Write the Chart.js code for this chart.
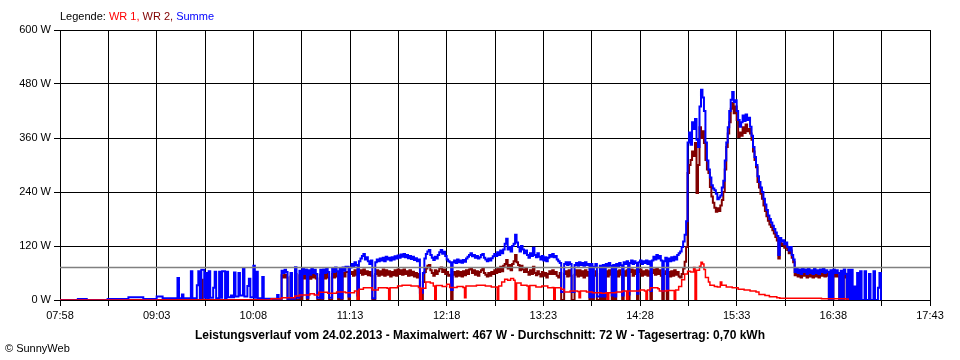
<!DOCTYPE html>
<html>
<head>
<meta charset="utf-8">
<script src="https://cdn.jsdelivr.net/npm/chart.js@4.4.1/dist/chart.umd.min.js"></script>
<style>
  html, body { margin: 0; padding: 0; background: #fff; }
  canvas { display: block; }
</style>
</head>
<body>
<canvas id="chart" width="960" height="360"></canvas>
<script>
// x axis labels (every second grid line carries a label)
const tickLabels = ["07:58", "09:03", "10:08", "11:13", "12:18", "13:23", "14:28", "15:33", "16:38", "17:43"];
const yMax = 600, yStep = 120;
const durchschnitt = 72;
const maximalwert = 467;
const tagesertrag = "0,70";
const datum = "24.02.2013";

// [time, watt] change points
const wr1 = [
  ["07:58", 0], ["10:18", 0], ["10:20", 3], ["10:27", 5], ["10:36", 9], ["10:39", 11], ["10:46", 14], ["10:49", 11],
  ["10:52", 17], ["10:58", 15], ["11:04", 18], ["11:10", 16], ["11:16", 20], ["11:18", 0], ["11:19", 24], ["11:22", 27],
  ["11:28", 22], ["11:32", 27], ["11:38", 26], ["11:39", 0], ["11:40", 27], ["11:45", 31], ["11:48", 33], ["11:54", 31],
  ["11:59", 28], ["12:00", 0], ["12:01", 26], ["12:04", 40], ["12:07", 38], ["12:09", 31], ["12:10", 0], ["12:11", 32],
  ["12:15", 30], ["12:18", 35], ["12:20", 28], ["12:25", 30], ["12:29", 28], ["12:30", 5], ["12:31", 31], ["12:38", 33],
  ["12:44", 31], ["12:48", 29], ["12:52", 0], ["12:53", 31], ["12:55", 40], ["12:57", 46], ["12:59", 44], ["13:01", 48],
  ["13:03", 44], ["13:04", 0], ["13:05", 38], ["13:08", 33], ["13:12", 31], ["13:13", 0], ["13:14", 32], ["13:18", 29],
  ["13:22", 31], ["13:26", 27], ["13:29", 28], ["13:30", 0], ["13:31", 27], ["13:35", 24], ["13:37", 18], ["13:41", 20],
  ["13:46", 19], ["13:47", 5], ["13:48", 20], ["13:52", 18], ["13:56", 16], ["14:02", 15], ["14:05", 16], ["14:06", 0],
  ["14:07", 16], ["14:12", 18], ["14:16", 20], ["14:19", 0], ["14:20", 20], ["14:26", 20], ["14:28", 22], ["14:31", 20],
  ["14:32", 0], ["14:33", 22], ["14:35", 27], ["14:40", 25], ["14:41", 20], ["14:46", 21], ["14:51", 0], ["14:52", 22],
  ["14:54", 30], ["14:56", 45], ["14:58", 58], ["15:00", 64], ["15:02", 62], ["15:04", 72], ["15:05", 0], ["15:06", 66],
  ["15:08", 75], ["15:09", 84], ["15:10", 80], ["15:11", 68], ["15:12", 50], ["15:14", 40], ["15:15", 33], ["15:18", 30],
  ["15:20", 29], ["15:22", 40], ["15:23", 33], ["15:26", 29], ["15:30", 27], ["15:34", 24], ["15:38", 22], ["15:42", 20],
  ["15:46", 18], ["15:48", 12], ["15:52", 10], ["15:55", 7], ["16:00", 5], ["16:02", 4], ["16:30", 3], ["16:46", 2], ["16:48", 0]
];

const wr2 = [
  ["07:58", 0], ["09:33", 45], ["09:34", 0],
  ["10:27", 55], ["10:28", 50], ["10:29", 56], ["10:30", 50], ["10:31", 0], ["10:33", 52], ["10:34", 0], ["10:36", 58], ["10:37", 0],
  ["10:39", 55], ["10:40", 0], ["10:41", 58], ["10:42", 48], ["10:43", 56], ["10:44", 0], ["10:45", 55], ["10:46", 47],
  ["10:47", 58], ["10:48", 50], ["10:49", 56], ["10:50", 48], ["10:51", 0], ["10:53", 56], ["10:54", 0], ["10:55", 58],
  ["10:56", 48], ["10:57", 58], ["10:58", 50], ["10:59", 0], ["11:01", 58], ["11:02", 50], ["11:03", 60], ["11:04", 52],
  ["11:05", 0], ["11:06", 58], ["11:07", 0], ["11:08", 60], ["11:09", 52], ["11:10", 62], ["11:12", 0], ["11:13", 58],
  ["11:14", 62], ["11:15", 54], ["11:16", 66], ["11:17", 56], ["11:18", 0], ["11:19", 60], ["11:20", 66], ["11:21", 56],
  ["11:22", 68], ["11:23", 58], ["11:24", 64], ["11:25", 55], ["11:26", 62], ["11:27", 54], ["11:28", 0],
  ["11:30", 58], ["11:31", 66], ["11:32", 54], ["11:33", 64], ["11:34", 56], ["11:35", 68], ["11:36", 54], ["11:37", 66],
  ["11:38", 56], ["11:39", 64], ["11:40", 52], ["11:41", 62], ["11:42", 55], ["11:43", 66], ["11:44", 54], ["11:45", 68],
  ["11:46", 58], ["11:47", 66], ["11:48", 56], ["11:49", 68], ["11:50", 58], ["11:51", 64], ["11:52", 54], ["11:53", 66],
  ["11:54", 55], ["11:55", 63], ["11:56", 52], ["11:57", 60], ["11:58", 50], ["11:59", 58], ["12:00", 0], ["12:02", 40],
  ["12:03", 62], ["12:04", 70], ["12:05", 76], ["12:06", 78], ["12:07", 66], ["12:08", 60], ["12:09", 54], ["12:10", 66],
  ["12:11", 58], ["12:12", 64], ["12:13", 70], ["12:14", 72], ["12:15", 62], ["12:16", 68], ["12:17", 58], ["12:18", 62],
  ["12:19", 54], ["12:20", 56], ["12:21", 0], ["12:22", 56], ["12:23", 62], ["12:24", 52], ["12:25", 64], ["12:26", 54],
  ["12:27", 62], ["12:28", 52], ["12:29", 64], ["12:30", 55], ["12:31", 66], ["12:32", 58], ["12:33", 68], ["12:34", 70],
  ["12:35", 60], ["12:36", 66], ["12:37", 56], ["12:38", 64], ["12:39", 54], ["12:40", 62], ["12:41", 66], ["12:42", 70],
  ["12:43", 60], ["12:44", 56], ["12:45", 52], ["12:46", 60], ["12:47", 54], ["12:48", 62], ["12:49", 58], ["12:50", 66],
  ["12:51", 60], ["12:52", 70], ["12:53", 62], ["12:54", 74], ["12:55", 64], ["12:56", 76], ["12:57", 80], ["12:58", 89],
  ["12:59", 70], ["13:00", 78], ["13:01", 66], ["13:02", 80], ["13:03", 86], ["13:04", 100], ["13:05", 84], ["13:06", 78],
  ["13:07", 66], ["13:08", 76], ["13:09", 68], ["13:10", 62], ["13:11", 70], ["13:12", 62], ["13:13", 56], ["13:14", 66],
  ["13:15", 58], ["13:16", 74], ["13:17", 60], ["13:18", 55], ["13:19", 64], ["13:20", 58], ["13:21", 52], ["13:22", 62],
  ["13:23", 54], ["13:24", 60], ["13:25", 50], ["13:26", 58], ["13:27", 64], ["13:28", 58], ["13:29", 66], ["13:30", 58],
  ["13:31", 62], ["13:32", 54], ["13:33", 50], ["13:34", 60], ["13:35", 0], ["13:37", 58], ["13:38", 64], ["13:39", 52],
  ["13:40", 66], ["13:41", 54], ["13:42", 0], ["13:44", 56], ["13:45", 66], ["13:46", 52], ["13:47", 66], ["13:48", 54],
  ["13:49", 64], ["13:50", 50], ["13:51", 66], ["13:52", 54], ["13:53", 62], ["13:54", 0], ["13:55", 62], ["13:56", 0],
  ["13:57", 54], ["13:58", 64], ["13:59", 0], ["14:01", 58], ["14:02", 0], ["14:03", 62], ["14:04", 0], ["14:05", 64],
  ["14:06", 52], ["14:07", 66], ["14:08", 56], ["14:09", 0], ["14:10", 62], ["14:11", 0], ["14:12", 64], ["14:13", 52],
  ["14:14", 66], ["14:15", 56], ["14:16", 0], ["14:17", 64], ["14:18", 54], ["14:19", 66], ["14:20", 0], ["14:21", 62],
  ["14:22", 68], ["14:23", 54], ["14:24", 66], ["14:25", 58], ["14:26", 0], ["14:27", 62], ["14:28", 68], ["14:29", 54],
  ["14:30", 64], ["14:31", 56], ["14:32", 66], ["14:33", 54], ["14:34", 64], ["14:35", 0], ["14:36", 60], ["14:37", 68],
  ["14:38", 56], ["14:39", 70], ["14:40", 58], ["14:41", 66], ["14:42", 54], ["14:43", 0], ["14:44", 58], ["14:45", 64],
  ["14:46", 0], ["14:47", 62], ["14:48", 52], ["14:49", 64], ["14:50", 54], ["14:51", 66], ["14:52", 56], ["14:53", 62],
  ["14:54", 52], ["14:55", 50], ["14:56", 58], ["14:57", 70], ["14:58", 85], ["14:59", 118], ["15:00", 282], ["15:01", 300],
  ["15:02", 311], ["15:03", 330], ["15:04", 320], ["15:05", 349], ["15:06", 238], ["15:07", 300], ["15:08", 384], ["15:09", 360],
  ["15:10", 375], ["15:11", 349], ["15:12", 311], ["15:13", 290], ["15:14", 282], ["15:15", 251], ["15:16", 230], ["15:17", 216],
  ["15:18", 205], ["15:19", 196], ["15:20", 204], ["15:21", 198], ["15:22", 210], ["15:23", 222], ["15:24", 240], ["15:25", 290],
  ["15:26", 340], ["15:27", 370], ["15:28", 395], ["15:29", 425], ["15:30", 438], ["15:31", 415], ["15:32", 430], ["15:33", 400],
  ["15:34", 362], ["15:35", 372], ["15:36", 365], ["15:37", 384], ["15:38", 371], ["15:39", 390], ["15:40", 375], ["15:41", 380],
  ["15:42", 370], ["15:43", 356], ["15:44", 330], ["15:45", 311], ["15:46", 295], ["15:47", 262], ["15:48", 250], ["15:49", 236],
  ["15:50", 225], ["15:51", 210], ["15:52", 198], ["15:53", 186], ["15:54", 176], ["15:55", 168], ["15:56", 162], ["15:57", 155],
  ["15:58", 148], ["15:59", 140], ["16:00", 132], ["16:01", 92], ["16:02", 130], ["16:03", 122], ["16:04", 125], ["16:05", 116],
  ["16:06", 120], ["16:07", 111], ["16:08", 104], ["16:09", 110], ["16:10", 94], ["16:11", 84], ["16:12", 55], ["16:13", 62],
  ["16:14", 52], ["16:15", 60], ["16:16", 50], ["16:17", 62], ["16:18", 54], ["16:19", 60], ["16:20", 50], ["16:21", 62],
  ["16:22", 52], ["16:23", 58], ["16:24", 50], ["16:25", 62], ["16:26", 52], ["16:27", 58], ["16:28", 50], ["16:29", 60],
  ["16:30", 54], ["16:31", 62], ["16:32", 52], ["16:33", 58], ["16:34", 54], ["16:35", 0], ["16:36", 58], ["16:37", 0],
  ["16:38", 60], ["16:39", 52], ["16:40", 58], ["16:41", 52], ["16:42", 0], ["16:43", 57], ["16:44", 0], ["16:45", 60],
  ["16:46", 50], ["16:47", 0]
];

const summe = [
  ["07:58", 0], ["08:10", 2], ["08:16", 0], ["08:30", 2], ["08:44", 6], ["08:54", 2], ["09:03", 8], ["09:07", 4],
  ["09:17", 49], ["09:18", 4], ["09:20", 12], ["09:21", 4], ["09:26", 64], ["09:27", 4], ["09:30", 33], ["09:31", 64],
  ["09:32", 4], ["09:33", 67], ["09:35", 5], ["09:36", 60], ["09:37", 4], ["09:38", 64], ["09:39", 5], ["09:41", 27],
  ["09:42", 63], ["09:43", 4], ["09:45", 63], ["09:46", 5], ["09:47", 64], ["09:49", 4], ["09:50", 63], ["09:51", 6],
  ["09:53", 10], ["09:54", 6], ["09:55", 61], ["09:56", 8], ["09:58", 60], ["09:59", 10], ["10:01", 69], ["10:02", 8],
  ["10:04", 31], ["10:05", 47], ["10:06", 6], ["10:08", 76], ["10:09", 5], ["10:10", 63], ["10:11", 4], ["10:14", 51],
  ["10:15", 3], ["10:24", 11], ["10:25", 3],
  ["10:27", 65], ["10:28", 60], ["10:29", 67], ["10:30", 62], ["10:31", 3], ["10:33", 60], ["10:34", 3], ["10:36", 73],
  ["10:37", 5], ["10:39", 65], ["10:40", 10], ["10:41", 70], ["10:42", 58], ["10:43", 68], ["10:44", 5], ["10:45", 66],
  ["10:46", 56], ["10:47", 70], ["10:48", 60], ["10:49", 67], ["10:50", 58], ["10:51", 5], ["10:53", 67], ["10:54", 4],
  ["10:55", 68], ["10:56", 60], ["10:57", 70], ["10:58", 62], ["10:59", 5], ["11:01", 70], ["11:02", 62], ["11:03", 72],
  ["11:04", 64], ["11:05", 6], ["11:06", 70], ["11:07", 4], ["11:08", 72], ["11:09", 65], ["11:10", 74], ["11:12", 8],
  ["11:13", 72], ["11:14", 80], ["11:15", 74], ["11:16", 84], ["11:17", 78], ["11:18", 10], ["11:19", 86], ["11:20", 92],
  ["11:21", 98], ["11:22", 102], ["11:23", 90], ["11:24", 95], ["11:25", 86], ["11:26", 80], ["11:27", 88], ["11:28", 4],
  ["11:30", 84], ["11:31", 90], ["11:32", 86], ["11:33", 92], ["11:34", 88], ["11:35", 94], ["11:36", 86], ["11:37", 96],
  ["11:38", 90], ["11:39", 94], ["11:40", 88], ["11:41", 95], ["11:42", 90], ["11:43", 97], ["11:44", 92], ["11:45", 99],
  ["11:46", 94], ["11:47", 101], ["11:48", 96], ["11:49", 102], ["11:50", 95], ["11:51", 100], ["11:52", 93], ["11:53", 98],
  ["11:54", 91], ["11:55", 96], ["11:56", 89], ["11:57", 93], ["11:58", 86], ["11:59", 90], ["12:00", 16], ["12:02", 60],
  ["12:03", 92], ["12:04", 102], ["12:05", 108], ["12:06", 111], ["12:07", 100], ["12:08", 94], ["12:09", 89], ["12:10", 96],
  ["12:11", 92], ["12:12", 100], ["12:13", 106], ["12:14", 111], ["12:15", 103], ["12:16", 107], ["12:17", 98], ["12:18", 90],
  ["12:19", 86], ["12:20", 84], ["12:21", 22], ["12:22", 84], ["12:23", 88], ["12:24", 82], ["12:25", 90], ["12:26", 84],
  ["12:27", 88], ["12:28", 83], ["12:29", 89], ["12:30", 85], ["12:31", 92], ["12:32", 96], ["12:33", 100], ["12:34", 104],
  ["12:35", 97], ["12:36", 100], ["12:37", 94], ["12:38", 98], ["12:39", 92], ["12:40", 95], ["12:41", 100], ["12:42", 102],
  ["12:43", 94], ["12:44", 90], ["12:45", 86], ["12:46", 92], ["12:47", 88], ["12:48", 93], ["12:49", 97], ["12:50", 102],
  ["12:51", 98], ["12:52", 106], ["12:53", 100], ["12:54", 110], ["12:55", 104], ["12:56", 112], ["12:57", 125], ["12:58", 136],
  ["12:59", 112], ["13:00", 118], ["13:01", 108], ["13:02", 120], ["13:03", 125], ["13:04", 145], ["13:05", 128], ["13:06", 118],
  ["13:07", 108], ["13:08", 120], ["13:09", 112], ["13:10", 104], ["13:11", 110], ["13:12", 100], ["13:13", 94], ["13:14", 104],
  ["13:15", 98], ["13:16", 116], ["13:17", 100], ["13:18", 95], ["13:19", 104], ["13:20", 96], ["13:21", 90], ["13:22", 98],
  ["13:23", 88], ["13:24", 95], ["13:25", 86], ["13:26", 94], ["13:27", 100], ["13:28", 96], ["13:29", 102], ["13:30", 95],
  ["13:31", 98], ["13:32", 90], ["13:33", 86], ["13:34", 82], ["13:35", 18], ["13:37", 80], ["13:38", 84], ["13:39", 78],
  ["13:40", 84], ["13:41", 80], ["13:42", 18], ["13:44", 78], ["13:45", 82], ["13:46", 76], ["13:47", 84], ["13:48", 78],
  ["13:49", 82], ["13:50", 76], ["13:51", 84], ["13:52", 78], ["13:53", 80], ["13:54", 6], ["13:55", 80], ["13:56", 6],
  ["13:57", 74], ["13:58", 80], ["13:59", 8], ["14:01", 76], ["14:02", 8], ["14:03", 78], ["14:04", 8], ["14:05", 80],
  ["14:06", 74], ["14:07", 82], ["14:08", 76], ["14:09", 10], ["14:10", 78], ["14:11", 8], ["14:12", 80], ["14:13", 75],
  ["14:14", 82], ["14:15", 77], ["14:16", 10], ["14:17", 84], ["14:18", 80], ["14:19", 86], ["14:20", 12], ["14:21", 82],
  ["14:22", 88], ["14:23", 80], ["14:24", 86], ["14:25", 82], ["14:26", 14], ["14:27", 84], ["14:28", 88], ["14:29", 80],
  ["14:30", 86], ["14:31", 82], ["14:32", 88], ["14:33", 80], ["14:34", 86], ["14:35", 20], ["14:36", 88], ["14:37", 96],
  ["14:38", 90], ["14:39", 100], ["14:40", 92], ["14:41", 98], ["14:42", 88], ["14:43", 20], ["14:44", 86], ["14:45", 94],
  ["14:46", 22], ["14:47", 92], ["14:48", 86], ["14:49", 95], ["14:50", 88], ["14:51", 96], ["14:52", 90], ["14:53", 100],
  ["14:54", 104], ["14:55", 108], ["14:56", 118], ["14:57", 130], ["14:58", 145], ["14:59", 175], ["15:00", 350], ["15:01", 372],
  ["15:02", 345], ["15:03", 395], ["15:04", 380], ["15:05", 402], ["15:06", 356], ["15:07", 340], ["15:08", 430], ["15:09", 467],
  ["15:10", 450], ["15:11", 420], ["15:12", 350], ["15:13", 310], ["15:14", 290], ["15:15", 272], ["15:16", 255], ["15:17", 248],
  ["15:18", 244], ["15:19", 236], ["15:20", 224], ["15:21", 228], ["15:22", 232], ["15:23", 250], ["15:24", 265], ["15:25", 310],
  ["15:26", 350], ["15:27", 384], ["15:28", 420], ["15:29", 445], ["15:30", 462], ["15:31", 440], ["15:32", 444], ["15:33", 420],
  ["15:34", 400], ["15:35", 385], ["15:36", 395], ["15:37", 410], ["15:38", 398], ["15:39", 412], ["15:40", 400], ["15:41", 405],
  ["15:42", 385], ["15:43", 365], ["15:44", 340], ["15:45", 318], ["15:46", 300], ["15:47", 275], ["15:48", 262], ["15:49", 250],
  ["15:50", 240], ["15:51", 225], ["15:52", 212], ["15:53", 200], ["15:54", 188], ["15:55", 180], ["15:56", 172], ["15:57", 165],
  ["15:58", 158], ["15:59", 150], ["16:00", 142], ["16:01", 100], ["16:02", 138], ["16:03", 130], ["16:04", 133], ["16:05", 124],
  ["16:06", 128], ["16:07", 118], ["16:08", 110], ["16:09", 118], ["16:10", 100], ["16:11", 90], ["16:12", 62], ["16:13", 70],
  ["16:14", 60], ["16:15", 68], ["16:16", 58], ["16:17", 70], ["16:18", 62], ["16:19", 68], ["16:20", 58], ["16:21", 70],
  ["16:22", 60], ["16:23", 66], ["16:24", 58], ["16:25", 70], ["16:26", 60], ["16:27", 66], ["16:28", 58], ["16:29", 68],
  ["16:30", 62], ["16:31", 70], ["16:32", 60], ["16:33", 66], ["16:34", 62], ["16:35", 0], ["16:36", 66], ["16:37", 0],
  ["16:38", 68], ["16:39", 60], ["16:40", 66], ["16:41", 60], ["16:42", 0], ["16:43", 65], ["16:44", 0], ["16:45", 68],
  ["16:46", 58], ["16:47", 0], ["16:48", 67], ["16:49", 0], ["16:50", 67], ["16:51", 0], ["16:52", 30], ["16:53", 0],
  ["16:54", 60], ["16:55", 0], ["16:56", 64], ["16:57", 0], ["16:59", 64], ["17:00", 0], ["17:02", 58], ["17:03", 0],
  ["17:05", 64], ["17:06", 0], ["17:08", 27], ["17:09", 60], ["17:10", 0]
];

const legendParts = [["Legende: ", "#000000"], ["WR 1, ", "#ff0000"], ["WR 2, ", "#800000"], ["Summe", "#0000ff"]];

const toMin = (s) => { const [h, m] = s.split(":").map(Number); return h * 60 + m; };
const toPoints = (arr) => arr.map(([t, w]) => ({ x: toMin(t), y: w }));

const xMin = toMin(tickLabels[0]);
const xMax = toMin(tickLabels[tickLabels.length - 1]);
const labelMins = tickLabels.map(toMin);
// grid lines: every label plus the midpoint between two labels
const gridMins = [];
labelMins.forEach((m, i) => {
  gridMins.push(m);
  if (i < labelMins.length - 1) gridMins.push((m + labelMins[i + 1]) / 2);
});

const FONT = "'Liberation Sans', Arial, sans-serif";

const legendText = {
  id: "legendText",
  afterDraw(chart) {
    const ctx = chart.ctx;
    ctx.save();
    ctx.font = "11px " + FONT;
    ctx.textBaseline = "alphabetic";
    let x = chart.chartArea.left;
    legendParts.forEach(([t, c]) => {
      ctx.fillStyle = c;
      ctx.fillText(t, x, 20);
      x += ctx.measureText(t).width;
    });
    ctx.restore();
  }
};

const line = (label, data, color, width) => ({
  label, data: toPoints(data), borderColor: color, backgroundColor: color,
  borderWidth: width, pointRadius: 0, stepped: true, fill: false
});

new Chart(document.getElementById("chart").getContext("2d"), {
  type: "line",
  data: {
    datasets: [
      {
        label: "Durchschnitt",
        data: [{ x: xMin, y: durchschnitt }, { x: xMax, y: durchschnitt }],
        borderColor: "#808080", borderWidth: 1.5, pointRadius: 0, fill: false
      },
      line("WR 1", wr1, "#ff0000", 1.5),
      line("Summe", summe, "#0000ff", 2),
      line("WR 2", wr2, "#800000", 2)
    ]
  },
  options: {
    responsive: false,
    animation: false,
    layout: { padding: { top: 30, right: 5, left: 5, bottom: 0 } },
    scales: {
      x: {
        type: "linear",
        min: xMin,
        max: xMax,
        afterBuildTicks: (scale) => { scale.ticks = gridMins.map((v) => ({ value: v })); },
        afterFit: (scale) => { scale.height = 30; },
        ticks: {
          autoSkip: false, maxRotation: 0, padding: 3, color: "#000",
          font: { family: FONT, size: 11 },
          callback: (v) => {
            const i = labelMins.indexOf(v);
            return i >= 0 ? tickLabels[i] : "";
          }
        },
        grid: { color: "#000", lineWidth: 1, tickLength: 6, drawTicks: true },
        border: { color: "#000", width: 1 }
      },
      y: {
        min: 0,
        max: yMax,
        afterFit: (scale) => { scale.width = 55; },
        ticks: {
          stepSize: yStep, padding: 3, color: "#000",
          font: { family: FONT, size: 11 },
          callback: (v) => v + " W"
        },
        grid: { color: "#000", lineWidth: 1, tickLength: 6 },
        border: { color: "#000", width: 1 }
      },
      // empty right-hand spacer so the plot ends at the 17:43 grid line
      rechts: {
        position: "right",
        afterFit: (scale) => { scale.width = 25; },
        ticks: { display: false },
        grid: { display: false, drawTicks: false },
        border: { display: false }
      }
    },
    plugins: {
      legend: { display: false },
      tooltip: { enabled: false },
      title: {
        display: true,
        position: "bottom",
        text: "Leistungsverlauf vom " + datum + " - Maximalwert: " + maximalwert + " W - Durchschnitt: " +
          durchschnitt + " W - Tagesertrag: " + tagesertrag + " kWh",
        color: "#000",
        font: { family: FONT, size: 12, weight: "bold", lineHeight: 1 },
        padding: { top: 0, bottom: 0 }
      },
      subtitle: {
        display: true,
        position: "bottom",
        align: "start",
        weight: 3000,
        text: "\u00a9 SunnyWeb",
        color: "#000",
        font: { family: FONT, size: 11, lineHeight: 1 },
        padding: { top: 1, bottom: 6 }
      }
    }
  },
  plugins: [legendText]
});
</script>
</body>
</html>
